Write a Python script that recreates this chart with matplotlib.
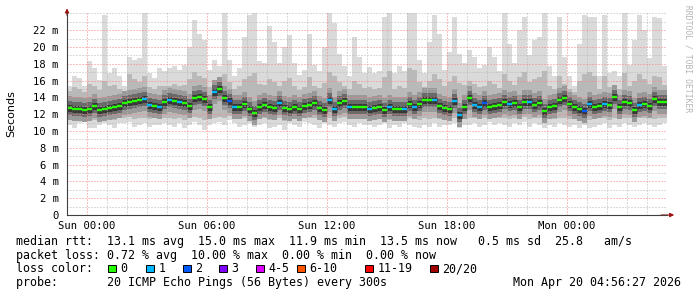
import numpy as np
import matplotlib
matplotlib.use("Agg")
import matplotlib.pyplot as plt
from matplotlib.patches import Rectangle
from matplotlib.ticker import MultipleLocator

# ---------------- data ----------------
start_hour = -1.0      # hours relative to Sun 00:00
step_hours = 0.25

median_ms = [
    12.7, 12.6, 12.6, 12.5, 12.6, 13.0, 12.5, 12.6, 12.7, 12.9, 13.0, 13.3, 13.5, 13.6, 13.7, 13.8, 13.1, 13.0, 12.8, 13.5,
    13.65, 13.6, 13.4, 13.3, 13.0, 13.9, 14.1, 13.8, 12.8, 14.6, 15.0, 13.9, 13.6, 12.9, 12.8, 13.2, 12.6, 12.2, 12.9, 13.1,
    12.8, 12.7, 13.3, 12.7, 12.6, 12.8, 12.6, 13.0, 13.1, 13.3, 12.7, 12.5, 13.7, 12.6, 13.3, 13.6, 12.9, 12.9, 12.8, 12.9,
    12.6, 12.7, 12.8, 12.5, 12.8, 12.6, 12.6, 12.6, 13.2, 12.9, 13.2, 13.7, 13.7, 13.7, 13.0, 12.7, 12.6, 13.6, 11.9, 12.8,
    13.9, 13.1, 12.9, 13.3, 12.8, 13.0, 13.1, 13.4, 13.2, 13.3, 12.9, 13.5, 13.5, 13.1, 13.3, 12.4, 12.8, 13.0, 13.7, 13.9,
    13.2, 12.9, 12.6, 12.4, 13.2, 12.9, 13.0, 13.2, 13.1, 14.0, 12.9, 13.5, 13.3, 12.5, 13.1, 13.2, 13.0, 13.8, 13.5, 13.5,
]

loss_count = [
    0, 0, 0, 0, 0, 0, 0, 0, 0, 0, 0, 0, 0, 0, 0, 1, 1, 0, 1, 0,
    1, 0, 1, 0, 0, 0, 0, 0, 0, 1, 0, 0, 2, 1, 0, 0, 0, 0, 0, 0,
    0, 0, 1, 0, 0, 0, 0, 0, 0, 0, 0, 0, 1, 1, 0, 0, 1, 0, 0, 0,
    1, 0, 0, 0, 1, 0, 0, 1, 0, 1, 0, 0, 0, 1, 0, 0, 0, 1, 1, 0,
    0, 1, 1, 2, 0, 0, 0, 0, 1, 0, 0, 0, 1, 0, 0, 0, 0, 0, 0, 0,
    0, 0, 0, 2, 1, 0, 0, 1, 0, 0, 0, 0, 0, 0, 1, 0, 0, 0, 0, 0,
]

max_ms = [
    15.3, 16.5, 16.3, 15.3, 18.3, 17.5, 16.1, 23.8, 16.9, 17.5, 16.5, 15.3, 18.8, 18.5, 18.7, 24.0, 16.9, 16.3, 17.5, 17.2,
    17.5, 17.7, 17.3, 17.9, 20.0, 23.2, 21.6, 20.8, 17.3, 18.5, 17.7, 24.0, 18.5, 16.5, 17.5, 21.2, 23.8, 24.0, 18.3, 18.1,
    22.5, 20.6, 18.1, 20.0, 21.4, 18.1, 16.7, 17.3, 21.6, 17.9, 17.1, 20.0, 24.0, 22.8, 19.2, 17.7, 16.5, 21.2, 18.8, 16.9,
    17.6, 16.9, 17.1, 23.6, 24.0, 16.9, 17.7, 17.1, 24.0, 24.0, 18.5, 16.9, 20.6, 23.8, 21.6, 17.3, 19.4, 23.6, 19.2, 18.1,
    19.6, 18.8, 17.5, 17.9, 20.0, 18.8, 17.1, 24.0, 20.4, 18.1, 22.0, 23.6, 19.0, 20.8, 21.2, 24.0, 17.7, 16.5, 23.6, 18.8,
    16.5, 15.3, 20.4, 23.8, 23.6, 23.6, 16.5, 23.8, 16.9, 17.1, 16.5, 24.0, 17.9, 20.8, 23.8, 22.0, 18.7, 23.6, 23.4, 17.7,
]

upper_ms = [
    14.8, 15.2, 15.0, 14.7, 15.6, 15.4, 14.9, 16.0, 15.3, 15.5, 15.0, 14.8, 16.8, 16.2, 15.8, 16.5, 15.2, 15.0, 15.4, 15.3,
    15.4, 15.6, 15.3, 15.5, 16.2, 17.0, 16.5, 16.3, 15.2, 16.0, 16.4, 16.8, 15.8, 15.0, 15.4, 16.2, 16.6, 16.9, 15.6, 15.5,
    16.2, 15.8, 15.3, 15.9, 16.3, 15.4, 14.9, 15.2, 16.4, 15.3, 15.1, 15.7, 17.0, 16.6, 15.8, 15.4, 15.0, 16.0, 15.6, 15.1,
    15.2, 15.0, 15.1, 16.4, 17.2, 15.0, 15.3, 15.1, 17.5, 17.3, 15.8, 15.2, 16.0, 16.8, 16.2, 15.3, 15.8, 16.5, 15.7, 15.5,
    16.0, 15.6, 15.2, 15.4, 15.9, 15.6, 15.1, 16.8, 16.0, 15.5, 16.4, 17.0, 15.8, 16.2, 16.4, 17.2, 15.4, 15.0, 16.6, 15.6,
    15.0, 14.6, 15.9, 16.8, 17.0, 16.6, 15.0, 16.5, 15.2, 15.4, 15.0, 16.9, 15.4, 16.0, 16.8, 16.2, 15.6, 16.6, 16.4, 15.5,
]

lower_ms = [
    11.5, 11.3, 11.4, 11.6, 11.2, 11.3, 11.5, 11.4, 11.5, 11.3, 11.6, 11.6, 11.7, 11.4, 11.5, 11.6, 11.4, 11.5, 11.5, 11.6,
    11.5, 11.4, 11.6, 11.3, 11.5, 11.7, 11.5, 11.3, 11.5, 11.6, 11.7, 11.5, 11.8, 11.6, 11.4, 11.5, 11.6, 11.4, 11.5, 11.6,
    11.3, 11.4, 11.5, 11.2, 11.6, 11.5, 11.4, 11.7, 11.6, 11.5, 11.3, 11.6, 11.5, 11.4, 11.6, 11.7, 11.5, 11.4, 11.6, 11.5,
    11.5, 11.4, 11.5, 11.6, 11.3, 11.5, 11.4, 11.6, 11.5, 11.4, 11.3, 11.5, 11.4, 11.6, 11.4, 11.5, 11.5, 11.6, 11.3, 11.5,
    11.5, 11.6, 11.4, 11.5, 11.7, 11.5, 11.6, 11.5, 11.4, 11.6, 11.5, 11.7, 11.4, 11.6, 11.5, 11.3, 11.5, 11.4, 11.6, 11.5,
    11.4, 11.5, 11.3, 11.5, 11.3, 11.4, 11.5, 11.6, 11.3, 11.5, 11.4, 11.6, 11.5, 11.4, 11.5, 11.6, 11.5, 11.4, 11.5, 11.6,
]

min_ms = [
    10.7, 10.3, 10.9, 11.1, 10.3, 10.3, 10.7, 10.9, 10.7, 10.3, 10.9, 10.9, 11.1, 10.5, 10.7, 10.9, 10.5, 10.7, 10.7, 10.9,
    10.7, 10.5, 10.9, 10.3, 10.7, 11.1, 10.7, 10.1, 10.7, 10.9, 11.1, 10.7, 11.3, 10.9, 10.5, 10.7, 10.9, 10.5, 10.7, 10.9,
    10.3, 10.5, 10.7, 10.1, 10.9, 10.7, 10.5, 11.1, 10.9, 10.7, 10.3, 10.9, 10.7, 10.5, 10.9, 11.1, 10.7, 10.5, 10.9, 10.7,
    10.7, 10.5, 10.7, 10.9, 10.3, 10.7, 10.5, 10.9, 10.7, 10.5, 10.3, 10.7, 10.5, 10.9, 10.5, 10.7, 10.7, 10.9, 10.3, 10.7,
    10.7, 10.9, 10.5, 10.7, 11.1, 10.7, 10.9, 10.7, 10.5, 10.9, 10.7, 11.1, 10.5, 10.9, 10.7, 10.3, 10.7, 10.5, 10.9, 10.7,
    10.5, 10.7, 10.3, 10.7, 10.3, 10.5, 10.7, 10.9, 10.3, 10.7, 10.5, 10.9, 10.7, 10.5, 10.7, 10.9, 10.7, 10.5, 10.7, 10.9,
]

x_tick_hours = [0, 6, 12, 18, 24]
x_tick_labels = ["Sun 00:00", "Sun 06:00", "Sun 12:00", "Sun 18:00", "Mon 00:00"]
y_tick_values = [0, 2, 4, 6, 8, 10, 12, 14, 16, 18, 20, 22]
y_tick_labels = ["0", "2 m", "4 m", "6 m", "8 m", "10 m", "12 m", "14 m", "16 m", "18 m", "20 m", "22 m"]

loss_labels = ["0", "1", "2", "3", "4-5", "6-10", "11-19", "20/20"]
loss_colors = ["#26ff00", "#00b8ff", "#0059ff", "#7e00ff", "#dd00ff", "#ff5500", "#ff0000", "#a10000"]
loss_upper = [0, 1, 2, 3, 5, 10, 19, 20]

stat_line1 = "median rtt:  13.1 ms avg  15.0 ms max  11.9 ms min  13.5 ms now   0.5 ms sd  25.8   am/s"
stat_line2 = "packet loss: 0.72 % avg  10.00 % max  0.00 % min  0.00 % now"
stat_line3 = "loss color:"
stat_line4 = "probe:       20 ICMP Echo Pings (56 Bytes) every 300s"
date_text = "Mon Apr 20 04:56:27 2026"
watermark = "RRDTOOL / TOBI OETIKER"

# ---------------- figure ----------------
W, H = 697, 297
fig = plt.figure(figsize=(W / 100, H / 100), dpi=100)
fig.patch.set_facecolor("white")
ax = fig.add_axes([67 / W, 82 / H, 600 / W, 201.6 / H])
ax.set_facecolor("white")

n = len(median_ms)
edges = start_hour + step_hours * np.arange(n + 1)

def ext(v):
    v = np.asarray(v, dtype=float) / 1000.0
    return np.append(v, v[-1])

ax.fill_between(edges, ext(min_ms), ext(max_ms), step="post", color="#dadada", lw=0, zorder=1)
ax.fill_between(edges, ext(lower_ms), ext(upper_ms), step="post", color="#b9b9b9", lw=0, zorder=1.1)
med_s = np.asarray(median_ms) / 1000.0
# smoke density around the median: drawn as thick per-step bars
for lw_px, col in [(24, "#999999"), (14, "#6a6a6a"), (7, "#363636")]:
    ax.hlines(med_s, edges[:-1], edges[1:], colors=col, lw=lw_px * 0.72,
              capstyle="butt", zorder=1.5)

def loss_col(k):
    for up, c in zip(loss_upper, loss_colors):
        if k <= up:
            return c
    return loss_colors[-1]

cols = [loss_col(k) for k in loss_count]
ax.hlines(med_s, edges[:-1], edges[1:], colors=cols, lw=1.7, capstyle="butt", zorder=3)

ax.set_xlim(start_hour, start_hour + step_hours * n)
ax.set_ylim(0, 0.024)

ax.set_xticks(x_tick_hours)
ax.set_xticklabels(x_tick_labels)
ax.xaxis.set_minor_locator(MultipleLocator(1))
ax.set_yticks([v / 1000 for v in y_tick_values])
ax.set_yticklabels(y_tick_labels)
ax.yaxis.set_minor_locator(MultipleLocator(0.001))

ax.set_axisbelow(False)
ax.grid(which="minor", color="#b8b8b8", lw=0.72, linestyle=(0, (1, 2)))
ax.grid(which="major", color="#ff8080", lw=0.72, linestyle=(0, (1, 2)))
for gl in ax.get_xgridlines() + ax.get_ygridlines():
    gl.set_zorder(2)

mono = "DejaVu Sans Mono"
ax.tick_params(which="both", length=0)
ax.tick_params(axis="y", pad=6, labelsize=7.6)
ax.tick_params(axis="x", pad=4, labelsize=7.6)
for lab in ax.get_xticklabels() + ax.get_yticklabels():
    lab.set_family(mono)

for s in ["top", "right"]:
    ax.spines[s].set_visible(False)
for s in ["left", "bottom"]:
    ax.spines[s].set_color("#404040")
    ax.spines[s].set_linewidth(0.8)
    ax.spines[s].set_zorder(4)

ax.annotate("", xy=(0, 1.025), xytext=(0, 0.99), xycoords="axes fraction",
            arrowprops=dict(arrowstyle="-|>", color="#a01010", lw=0.8, mutation_scale=6,
                            shrinkA=0, shrinkB=0))
ax.annotate("", xy=(1.012, 0), xytext=(0.99, 0), xycoords="axes fraction",
            arrowprops=dict(arrowstyle="-|>", color="#a01010", lw=0.8, mutation_scale=6,
                            shrinkA=0, shrinkB=0))

fig.text(11 / W, 1 - 114 / H, "Seconds", rotation=90, ha="center", va="center",
         fontsize=8, family="DejaVu Sans")
fig.text(688 / W, 1 - 5 / H, watermark, rotation=270, ha="center", va="top",
         fontsize=5.8, family=mono, color="#b4b4b4")

fs = 8.4
x0 = 16 / W
fig.text(x0, 1 - 241 / H, stat_line1, family=mono, fontsize=fs, va="center")
fig.text(x0, 1 - 255 / H, stat_line2, family=mono, fontsize=fs, va="center")
fig.text(x0, 1 - 268.5 / H, stat_line3, family=mono, fontsize=fs, va="center")
fig.text(x0, 1 - 282.5 / H, stat_line4, family=mono, fontsize=fs, va="center")
fig.text(681 / W, 1 - 282.5 / H, date_text, family=mono, fontsize=fs, va="center", ha="right")

box_x = [108, 146, 183, 219, 256, 297, 365, 430]
for bx, lab, col in zip(box_x, loss_labels, loss_colors):
    fig.add_artist(Rectangle((bx / W, 1 - 272 / H), 7.5 / W, 7.5 / H, transform=fig.transFigure,
                             facecolor=col, edgecolor="black", lw=0.7))
    fig.text((bx + 12.5) / W, 1 - 268.5 / H, lab, family=mono, fontsize=fs, va="center")

fig.savefig("out.png", dpi=100)
